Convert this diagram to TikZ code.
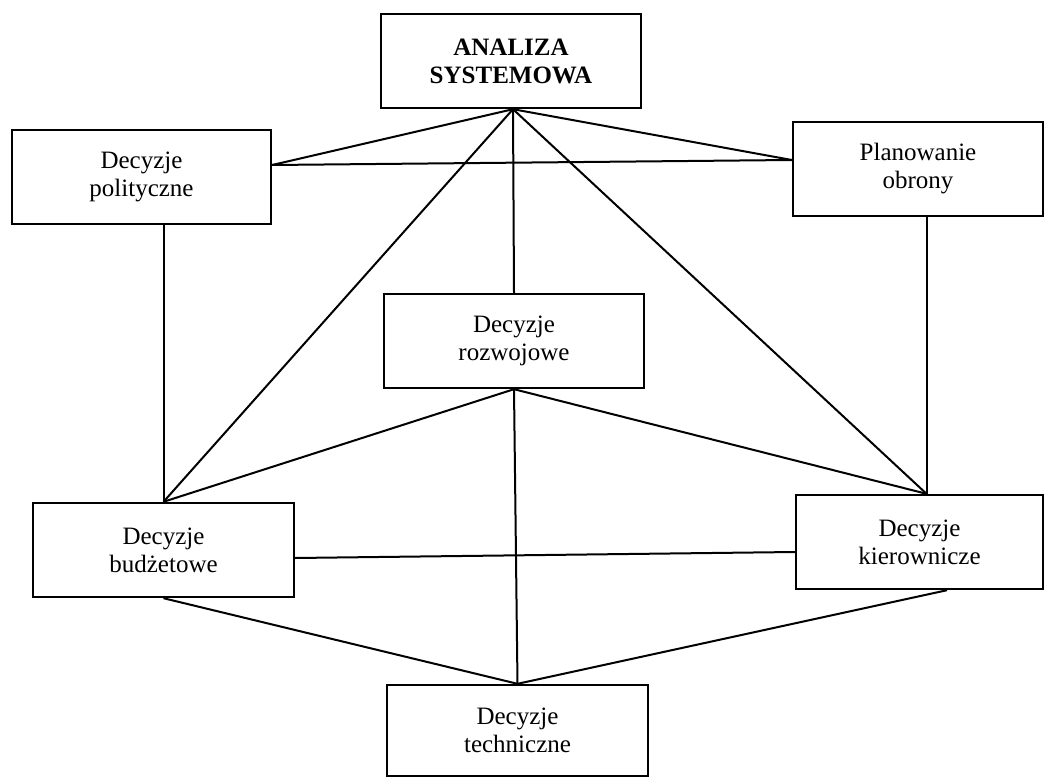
\documentclass[tikz,border=0pt]{standalone}
\usepackage{fontspec}
\setmainfont{Liberation Serif}
\begin{document}
\begin{tikzpicture}[x=1pt,y=-1pt,
  box/.style={draw,line width=2.4pt,align=center,inner sep=0pt,
    font=\fontsize{25}{28}\selectfont},
  link/.style={line width=2pt}]
\useasboundingbox (0,0) rectangle (1047,778);
% boxes
\node[box,minimum width=260pt,minimum height=94pt,font=\fontsize{25}{28}\selectfont\bfseries] (ana) at (511,61) {ANALIZA\\SYSTEMOWA};
\node[box,minimum width=259pt,minimum height=94pt] (pol) at (141.5,177) {Decyzje\\polityczne};
\node[box,minimum width=250pt,minimum height=94pt] (pla) at (918,169) {Planowanie\\obrony};
\node[box,minimum width=260pt,minimum height=94pt] (roz) at (514,341) {Decyzje\\rozwojowe};
\node[box,minimum width=261pt,minimum height=94pt] (bud) at (163.5,550) {Decyzje\\budżetowe};
\node[box,minimum width=247pt,minimum height=94pt] (kie) at (919.5,542) {Decyzje\\kierownicze};
\node[box,minimum width=261pt,minimum height=91pt] (tec) at (517.5,730.5) {Decyzje\\techniczne};
% attachment points
\coordinate (anab) at ([xshift=2pt]ana.south);
\coordinate (polr) at ([yshift=12pt]pol.east);
\coordinate (plal) at ([yshift=9pt]pla.west);
\coordinate (kiet) at ([xshift=7pt]kie.north);
\coordinate (kieb) at ([xshift=27.5pt]kie.south);
\coordinate (budr) at ([yshift=-8pt]bud.east);
\coordinate (kiel) at ([yshift=-10pt]kie.west);
% connectors
\draw[link] (anab) -- (polr);
\draw[link] (anab) -- (plal);
\draw[link] (polr) -- (plal);
\draw[link] (anab) -- (bud.north);
\draw[link] (anab) -- (roz.north);
\draw[link] (anab) -- (kiet);
\draw[link] (pol.south -| bud.north) -- (bud.north);
\draw[link] (pla.south -| kiet) -- (kiet);
\draw[link] (roz.south) -- (bud.north);
\draw[link] (roz.south) -- (kiet);
\draw[link] (roz.south) -- (tec.north);
\draw[link] (budr) -- (kiel);
\draw[link] (bud.south) -- (tec.north);
\draw[link] (kieb) -- (tec.north);
\end{tikzpicture}
\end{document}
